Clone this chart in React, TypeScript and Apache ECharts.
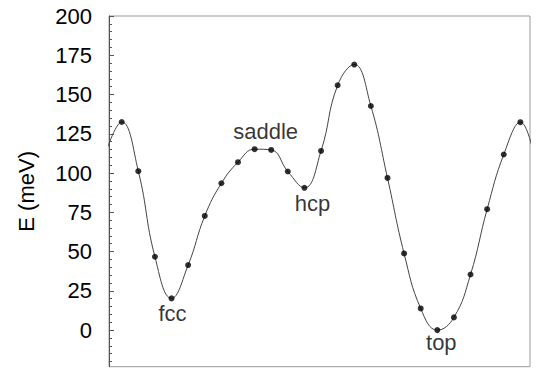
import React, { useEffect, useRef } from "react";
import * as echarts from "echarts";

// Energy (meV) sampled along the path; the path is periodic (first and last samples coincide)
const energies: number[] = [
  132.5, 101.2, 46.7, 20.2, 41.4, 72.7, 93.5, 106.9, 115.2, 114.7, 101.0, 90.6,
  114.1, 155.9, 169.1, 142.7, 96.9, 48.8, 13.8, 0.0, 8.1, 35.4, 77.0, 111.8, 132.4,
];

// Adsorption sites annotated on the curve (index into energies)
const siteIndices: number[] = [3, 8, 11, 19];
const siteNames: string[] = ["fcc", "saddle", "hcp", "top"];

// Y axis ticks
const majorTicks: number[] = [0, 25, 50, 75, 100, 125, 150, 175, 200];
const minorTicks: number[] = [
  -20, -15, -10, -5, 0, 5, 10, 15, 20, 25, 30, 35, 40, 45, 50, 55, 60, 65, 70, 75,
  80, 85, 90, 95, 100, 105, 110, 115, 120, 125, 130, 135, 140, 145, 150, 155, 160,
  165, 170, 175, 180, 185, 190, 195,
];

const Y_MIN = -23.3;
const Y_MAX = 200;
const X_MIN = -0.765;
const X_MAX = 24.58;

const FONT = "'Liberation Sans', Arial, Helvetica, sans-serif";
const FONT_SIZE = 22;

// label offsets (px) for each site name relative to its dot
const siteOffsets: [number, number][] = [
  [1, 15],
  [11, -17.6],
  [8, 15.5],
  [4, 12],
];

export default function App() {
  const ref = useRef<HTMLDivElement>(null);

  useEffect(() => {
    if (!ref.current) return;
    const chart = echarts.init(ref.current, undefined, { renderer: "svg" });

    const points = energies.map((e, i) => [i, e]);
    const n = energies.length;
    // periodic continuation so the curve runs smoothly to the plot edges
    const curve = [[-1, energies[n - 2]], ...points, [n, energies[1]]];

    const dots = points.map((p, i) => {
      const k = siteIndices.indexOf(i);
      if (k < 0) return { value: p };
      return {
        value: p,
        label: {
          show: true,
          formatter: siteNames[k],
          position: "inside",
          offset: siteOffsets[k],
          fontSize: FONT_SIZE,
          fontFamily: FONT,
          color: "#000",
        },
      };
    });

    chart.setOption({
      animation: false,
      grid: {
        left: 109,
        right: 6,
        top: 16,
        bottom: 3.3,
        show: true,
        borderColor: "#9a9a9a",
        borderWidth: 1,
      },
      xAxis: {
        type: "value",
        min: X_MIN,
        max: X_MAX,
        show: false,
      },
      yAxis: [
        {
          type: "value",
          min: Y_MIN,
          max: Y_MAX,
          position: "left",
          name: "E (meV)",
          nameLocation: "middle",
          nameGap: 72,
          nameTextStyle: { fontSize: FONT_SIZE, fontFamily: FONT, color: "#000" },
          axisLine: { show: true, onZero: false, lineStyle: { color: "#555", width: 1 } },
          axisTick: {
            show: true,
            inside: true,
            length: 5,
            customValues: majorTicks,
            lineStyle: { color: "#555", width: 1 },
          },
          axisLabel: {
            show: true,
            customValues: majorTicks,
            margin: 17,
            fontSize: FONT_SIZE,
            fontFamily: FONT,
            color: "#000",
            padding: [5, 0, 0, 0],
          },
          splitLine: { show: false },
        },
        {
          type: "value",
          min: Y_MIN,
          max: Y_MAX,
          position: "left",
          axisLine: { show: false, onZero: false },
          axisTick: {
            show: true,
            inside: true,
            length: 3,
            customValues: minorTicks,
            lineStyle: { color: "#555", width: 1 },
          },
          axisLabel: { show: false },
          splitLine: { show: false },
        },
      ],
      series: [
        {
          type: "line",
          data: curve,
          smooth: 0.45,
          symbol: "none",
          clip: true,
          lineStyle: { color: "#444", width: 1 },
          z: 2,
        },
        {
          type: "scatter",
          data: dots,
          symbol: "circle",
          symbolSize: 6,
          itemStyle: { color: "#000" },
          z: 3,
        },
      ],
    });

    return () => chart.dispose();
  }, []);

  return (
    <div
      ref={ref}
      style={{ position: "absolute", left: 0, top: 0, width: 536, height: 370, background: "#fff" }}
    />
  );
}
